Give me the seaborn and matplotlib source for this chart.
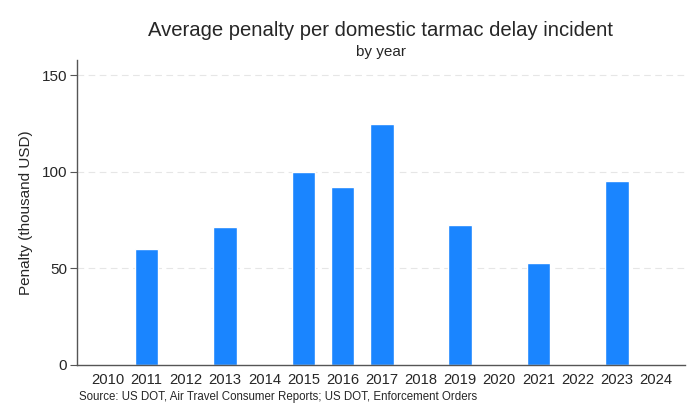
import pandas as pd
import seaborn as sns
import matplotlib.pyplot as plt

# dados (mil USD)
years = [str(y) for y in range(2010, 2025)]
penalty = [0, 60, 0, 71.5, 0, 100, 92, 125, 0, 72.5, 0, 53, 0, 95.3, 0]

df = pd.DataFrame({"year": years, "penalty": penalty})

sns.set_theme(style="white")
plt.rcParams['font.family'] = ['Liberation Sans', 'DejaVu Sans']

fig = plt.figure(figsize=(7, 4.2), dpi=100)
ax = fig.add_axes([0.11, 0.131, 0.8686, 0.726])

sns.barplot(data=df, x="year", y="penalty", order=years, color="#1a85ff",
            saturation=1, width=0.6, ax=ax)

ax.set_xlim(-0.78, 14.74)
ax.set_ylim(0, 158)
ax.set_yticks([0, 50, 100, 150])
for v in [50, 100, 150]:
    ax.axhline(v, color="#e6e6e6", lw=0.8, ls=(0, (6, 4)), zorder=0)

ax.set_xlabel("")
ax.set_ylabel("Penalty (thousand USD)", fontsize=11, labelpad=6)
ax.tick_params(axis="y", length=5, width=0.8, color="#555555", labelsize=11, pad=2, left=True)
ax.tick_params(axis="x", length=0, labelsize=10.6, pad=5.5)

sns.despine(ax=ax)
for s in ["left", "bottom"]:
    ax.spines[s].set_color("#555555")
    ax.spines[s].set_linewidth(1)

fig.text(0.544, 0.928, "Average penalty per domestic tarmac delay incident",
         ha="center", va="center", fontsize=14.6)
fig.text(0.544, 0.876, "by year", ha="center", va="center", fontsize=11)
fig.text(0.113, 0.055, "Source: US DOT, Air Travel Consumer Reports; US DOT, Enforcement Orders",
         ha="left", va="center", fontsize=8.3)

plt.savefig("out.png", dpi=100)
